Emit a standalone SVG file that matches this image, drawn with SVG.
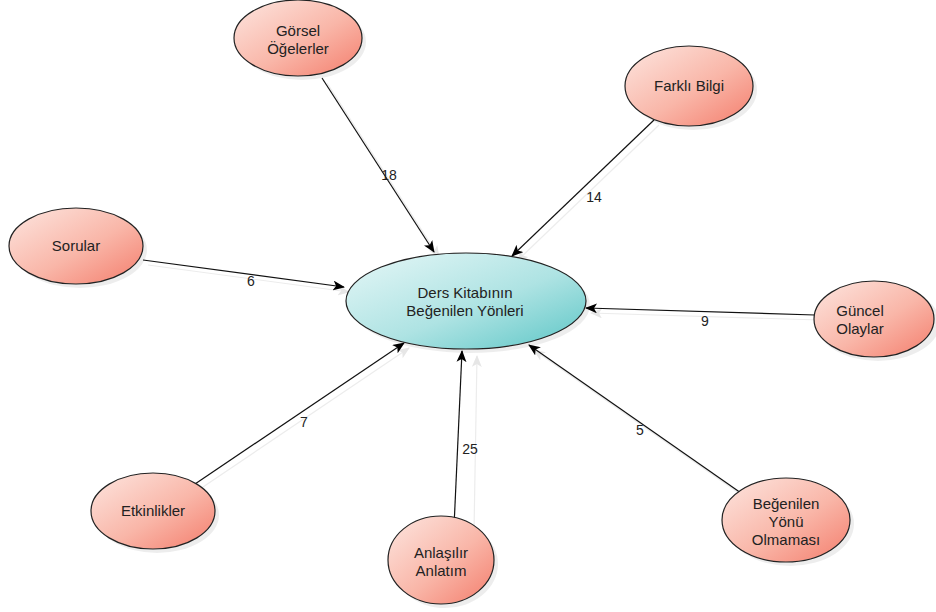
<svg xmlns="http://www.w3.org/2000/svg" width="936" height="612" viewBox="0 0 936 612">
  <defs>
    <linearGradient id="pink" x1="0" y1="0" x2="1" y2="1">
      <stop offset="0" stop-color="#fde6e0"/>
      <stop offset="0.55" stop-color="#f9b6a8"/>
      <stop offset="1" stop-color="#f47d6c"/>
    </linearGradient>
    <linearGradient id="teal" x1="0" y1="0" x2="1" y2="1">
      <stop offset="0" stop-color="#e6f7f7"/>
      <stop offset="0.55" stop-color="#aee3e3"/>
      <stop offset="1" stop-color="#5cc6c6"/>
    </linearGradient>
    <marker id="arr" viewBox="0 0 12 10" refX="11" refY="5" markerWidth="12" markerHeight="10" markerUnits="userSpaceOnUse" orient="auto">
      <path d="M0,0 L12,5 L0,10 L3,5 Z" fill="#000"/>
    </marker>
    <marker id="arrS" viewBox="0 0 12 10" refX="11" refY="5" markerWidth="12" markerHeight="10" markerUnits="userSpaceOnUse" orient="auto">
      <path d="M0,0 L12,5 L0,10 L3,5 Z" fill="#e6e6e6"/>
    </marker>
  </defs>
  <style>
    .node { stroke: #222; stroke-width: 1.2; }
    .shadow { fill: #000; opacity: 0.07; }
    .lbl { font-family: "Liberation Sans", Arial, sans-serif; font-size: 15px; fill: #222; text-anchor: middle; }
    .edge { stroke: #111; stroke-width: 1.2; fill: none; marker-end: url(#arr); }
    .edgeS { stroke: #ececec; stroke-width: 1.2; fill: none; marker-end: url(#arrS); }
    .num { font-family: "Liberation Sans", Arial, sans-serif; font-size: 14px; fill: #222; text-anchor: middle; }
  </style>

  <!-- connectors -->
  <g id="connectors">
    <g id="edge-shadows">
      <line class="edgeS" x1="327" y1="83" x2="439" y2="257"/>
      <line class="edgeS" x1="659" y1="125" x2="517" y2="261"/>
      <line class="edgeS" x1="148" y1="265" x2="349" y2="292"/>
      <line class="edgeS" x1="820" y1="320" x2="591" y2="313"/>
      <line class="edgeS" x1="200" y1="489" x2="409" y2="348"/>
      <line class="edgeS" x1="474" y1="532" x2="477" y2="356"/>
      <line class="edgeS" x1="746" y1="498" x2="534" y2="350"/>
    </g>
    <line class="edge" x1="322" y1="78" x2="434" y2="252"/>
    <line class="edge" x1="654" y1="120" x2="512" y2="256"/>
    <line class="edge" x1="143" y1="260" x2="344" y2="287"/>
    <line class="edge" x1="815" y1="315" x2="586" y2="308"/>
    <line class="edge" x1="195" y1="484" x2="404" y2="343"/>
    <line class="edge" x1="454" y1="527" x2="462" y2="351"/>
    <line class="edge" x1="741" y1="493" x2="529" y2="345"/>
    <text class="num" x="389" y="180">18</text>
    <text class="num" x="594" y="202">14</text>
    <text class="num" x="251" y="286">6</text>
    <text class="num" x="705" y="326">9</text>
    <text class="num" x="304" y="427">7</text>
    <text class="num" x="470" y="454">25</text>
    <text class="num" x="640" y="435">5</text>
  </g>

  <!-- centre node -->
  <g id="center">
    <ellipse class="shadow" cx="470" cy="305" rx="120" ry="48"/>
    <ellipse class="node" cx="466" cy="301" rx="120" ry="48" fill="url(#teal)"/>
    <text class="lbl" x="465" y="298">Ders Kitabının</text>
    <text class="lbl" x="465" y="316">Beğenilen Yönleri</text>
  </g>

  <g id="gorsel">
    <ellipse class="shadow" cx="302" cy="42" rx="64" ry="38"/>
    <ellipse class="node" cx="298" cy="38" rx="64" ry="38" fill="url(#pink)"/>
    <text class="lbl" x="298" y="36">Görsel</text>
    <text class="lbl" x="298" y="54">Öğelerler</text>
  </g>

  <g id="farkli">
    <ellipse class="shadow" cx="693" cy="90" rx="64" ry="40"/>
    <ellipse class="node" cx="689" cy="86" rx="64" ry="40" fill="url(#pink)"/>
    <text class="lbl" x="689" y="91">Farklı Bilgi</text>
  </g>

  <g id="sorular">
    <ellipse class="shadow" cx="80" cy="250" rx="67" ry="38"/>
    <ellipse class="node" cx="76" cy="246" rx="67" ry="38" fill="url(#pink)"/>
    <text class="lbl" x="76" y="251">Sorular</text>
  </g>

  <g id="guncel">
    <ellipse class="shadow" cx="878" cy="323" rx="62" ry="38"/>
    <ellipse class="node" cx="874" cy="319" rx="60" ry="38" fill="url(#pink)"/>
    <text class="lbl" x="860" y="316">Güncel</text>
    <text class="lbl" x="860" y="334">Olaylar</text>
  </g>

  <g id="etkinlikler">
    <ellipse class="shadow" cx="157" cy="515" rx="62" ry="38"/>
    <ellipse class="node" cx="153" cy="511" rx="62" ry="38" fill="url(#pink)"/>
    <text class="lbl" x="153" y="516">Etkinlikler</text>
  </g>

  <g id="anlasilir">
    <ellipse class="shadow" cx="445" cy="564" rx="53" ry="44"/>
    <ellipse class="node" cx="441" cy="560" rx="53" ry="44" fill="url(#pink)"/>
    <text class="lbl" x="441" y="558">Anlaşılır</text>
    <text class="lbl" x="441" y="576">Anlatım</text>
  </g>

  <g id="begenilen">
    <ellipse class="shadow" cx="790" cy="524" rx="64" ry="42"/>
    <ellipse class="node" cx="786" cy="520" rx="64" ry="42" fill="url(#pink)"/>
    <text class="lbl" x="786" y="509">Beğenilen</text>
    <text class="lbl" x="786" y="527">Yönü</text>
    <text class="lbl" x="786" y="545">Olmaması</text>
  </g>
</svg>
